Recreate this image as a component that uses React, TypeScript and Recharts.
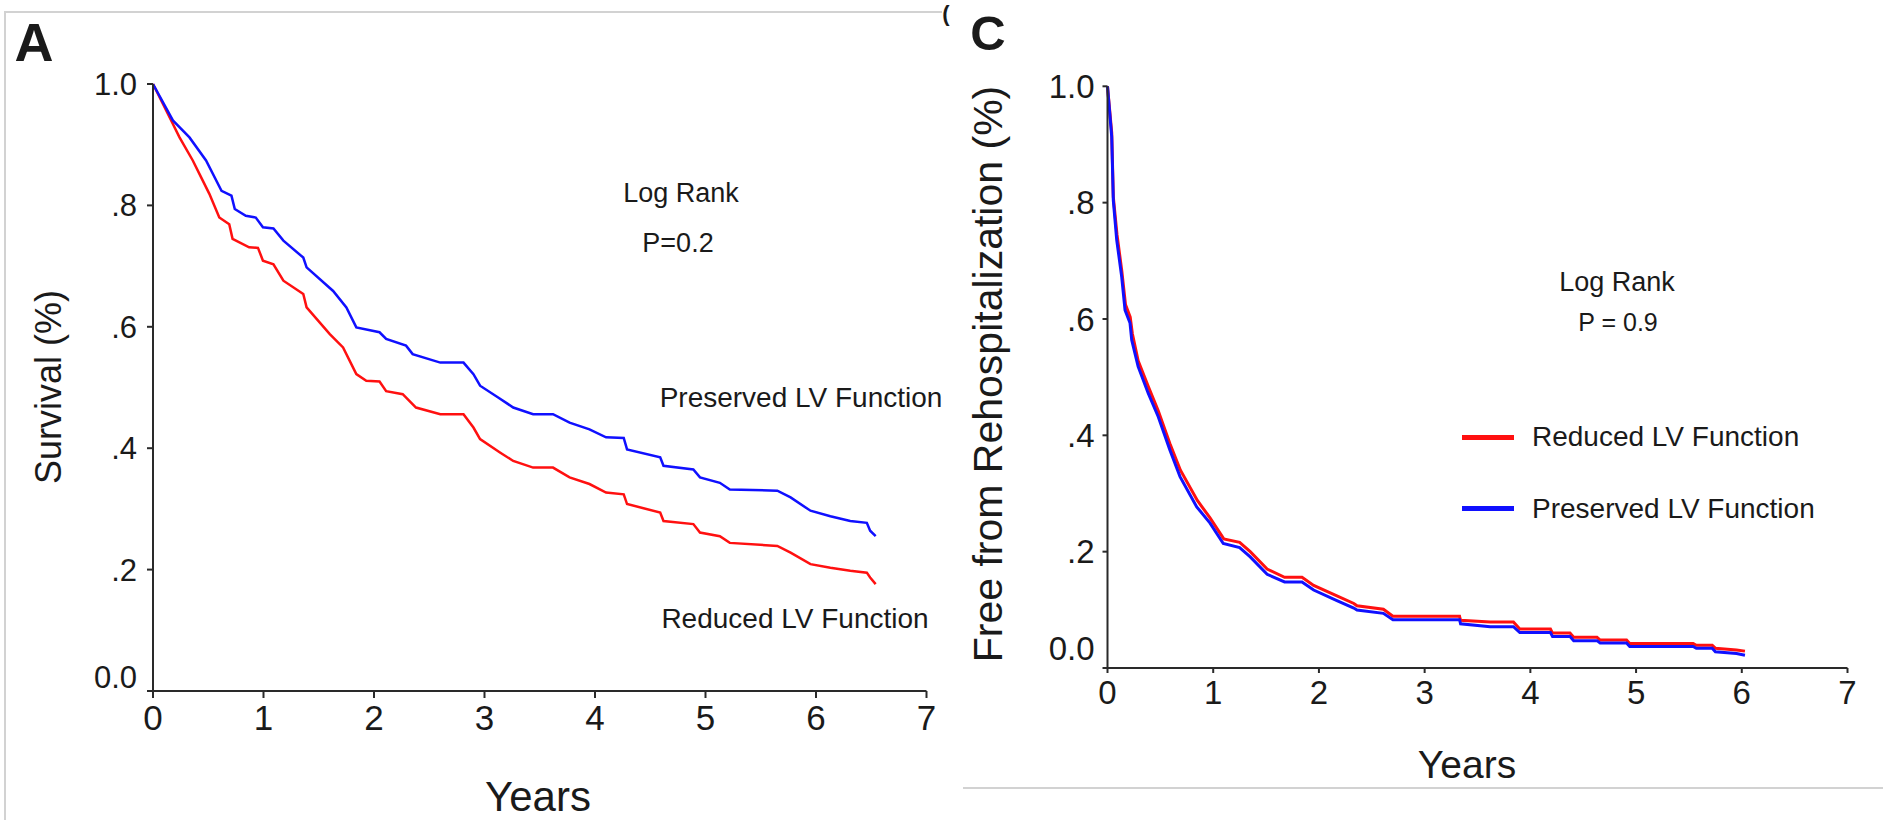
import React from "react";
import { LineChart, Line, XAxis, YAxis } from "recharts";

const FONT = '"Liberation Sans", Arial, Helvetica, sans-serif';
const RED = "#ff1010";
const BLUE = "#1010ff";
const AXIS = "#2a2a2a";
const INK = "#1a1a1a";

const yearTicks = [0, 1, 2, 3, 4, 5, 6, 7];
const fractionTicks = [0, 0.2, 0.4, 0.6, 0.8, 1.0];

// panel A – survival, [years, fraction]
const preservedSurvival: [number, number][] = [
  [0, 1.0], [0.18, 0.94], [0.33, 0.912], [0.48, 0.874], [0.62, 0.824], [0.71, 0.816],
  [0.74, 0.794], [0.84, 0.783], [0.93, 0.78], [0.995, 0.764], [1.09, 0.762], [1.18, 0.742],
  [1.36, 0.714], [1.39, 0.698], [1.63, 0.659], [1.75, 0.632], [1.84, 0.599], [2.05, 0.591],
  [2.11, 0.58], [2.29, 0.569], [2.35, 0.555], [2.6, 0.541], [2.81, 0.541], [2.9, 0.522],
  [2.96, 0.503], [3.12, 0.484], [3.26, 0.467], [3.44, 0.456], [3.62, 0.456], [3.77, 0.442],
  [3.95, 0.431], [4.1, 0.418], [4.26, 0.417], [4.29, 0.398], [4.59, 0.385], [4.62, 0.371],
  [4.89, 0.365], [4.95, 0.352], [5.13, 0.343], [5.22, 0.332], [5.65, 0.33], [5.77, 0.319],
  [5.95, 0.297], [6.13, 0.288], [6.31, 0.28], [6.46, 0.277], [6.49, 0.264], [6.54, 0.255],
];

const reducedSurvival: [number, number][] = [
  [0, 1.0], [0.18, 0.934], [0.24, 0.912], [0.36, 0.874], [0.42, 0.852], [0.51, 0.819],
  [0.6, 0.78], [0.69, 0.769], [0.72, 0.745], [0.87, 0.731], [0.95, 0.73], [0.995, 0.709],
  [1.09, 0.703], [1.18, 0.676], [1.36, 0.654], [1.39, 0.632], [1.6, 0.588], [1.72, 0.566],
  [1.84, 0.522], [1.93, 0.511], [2.05, 0.51], [2.11, 0.494], [2.26, 0.489], [2.38, 0.467],
  [2.6, 0.456], [2.81, 0.456], [2.9, 0.434], [2.96, 0.415], [3.14, 0.393], [3.26, 0.379],
  [3.44, 0.368], [3.62, 0.368], [3.77, 0.352], [3.95, 0.341], [4.1, 0.327], [4.26, 0.324],
  [4.29, 0.308], [4.59, 0.294], [4.62, 0.28], [4.89, 0.275], [4.95, 0.261], [5.13, 0.255],
  [5.22, 0.244], [5.65, 0.239], [5.77, 0.228], [5.95, 0.209], [6.13, 0.203], [6.31, 0.198],
  [6.46, 0.195], [6.49, 0.187], [6.54, 0.176],
];

// panel C – free from rehospitalization, [years, fraction]
const reducedRehosp: [number, number][] = [
  [0, 1.0], [0.04, 0.92], [0.055, 0.81], [0.09, 0.745], [0.135, 0.683], [0.17, 0.625],
  [0.215, 0.603], [0.235, 0.575], [0.29, 0.528], [0.39, 0.482], [0.48, 0.442], [0.59, 0.386],
  [0.69, 0.34], [0.85, 0.288], [0.97, 0.258], [1.1, 0.222], [1.25, 0.216], [1.35, 0.2],
  [1.51, 0.17], [1.675, 0.156], [1.84, 0.156], [1.95, 0.142], [2.17, 0.124], [2.33, 0.111],
  [2.36, 0.107], [2.61, 0.101], [2.7, 0.089], [3.33, 0.089], [3.34, 0.082], [3.62, 0.079],
  [3.84, 0.079], [3.9, 0.067], [4.19, 0.067], [4.21, 0.06], [4.375, 0.06], [4.41, 0.053],
  [4.63, 0.053], [4.66, 0.048], [4.91, 0.048], [4.94, 0.042], [5.54, 0.042], [5.57, 0.039],
  [5.72, 0.039], [5.75, 0.034], [5.95, 0.031], [6.03, 0.029],
];

const preservedRehosp: [number, number][] = [
  [0, 1.0], [0.04, 0.913], [0.055, 0.804], [0.087, 0.736], [0.134, 0.673], [0.166, 0.615],
  [0.213, 0.593], [0.229, 0.564], [0.29, 0.518], [0.386, 0.472], [0.48, 0.432], [0.59, 0.375],
  [0.686, 0.329], [0.844, 0.277], [0.97, 0.249], [1.095, 0.214], [1.25, 0.207], [1.35, 0.191],
  [1.51, 0.161], [1.675, 0.148], [1.84, 0.148], [1.95, 0.134], [2.17, 0.116], [2.33, 0.103],
  [2.36, 0.0997], [2.61, 0.094], [2.7, 0.083], [3.33, 0.083], [3.34, 0.076], [3.62, 0.071],
  [3.84, 0.071], [3.9, 0.061], [4.19, 0.061], [4.21, 0.054], [4.375, 0.054], [4.41, 0.047],
  [4.63, 0.047], [4.66, 0.043], [4.91, 0.043], [4.94, 0.037], [5.54, 0.037], [5.57, 0.034],
  [5.72, 0.034], [5.75, 0.028], [5.95, 0.025], [6.03, 0.022],
];

const toRows = (pts: [number, number][]) => pts.map(([t, v]) => ({ t, v }));

const fracLabel = (v: number) =>
  v === 0 ? "0.0" : v === 1 ? "1.0" : "." + Math.round(v * 10);

function YTick(props: any) {
  const { x, y, payload, fontSize, zeroShift } = props;
  const shift = payload.value === 0 ? -zeroShift : 0;
  return (
    <text x={x} y={y + shift} dy="0.355em" textAnchor="end" fontSize={fontSize} fill={INK} fontFamily={FONT}>
      {fracLabel(payload.value)}
    </text>
  );
}

function XTick(props: any) {
  const { x, y, payload, fontSize } = props;
  return (
    <text x={x} y={y} dy="0.71em" textAnchor="middle" fontSize={fontSize} fill={INK} fontFamily={FONT}>
      {payload.value}
    </text>
  );
}

function Txt({ x, y, size, children, bold, rotate, anchor = "middle" }: any) {
  const tx = anchor === "start" ? "0" : "-50%";
  return (
    <div
      style={{
        position: "absolute",
        left: x,
        top: y,
        fontSize: size,
        lineHeight: 1,
        whiteSpace: "nowrap",
        fontWeight: bold ? 700 : 400,
        color: INK,
        transform: `translate(${tx}, -50%)` + (rotate ? ` rotate(${rotate}deg)` : ""),
      }}
    >
      {children}
    </div>
  );
}

const axisStyle = { stroke: AXIS, strokeWidth: 2 };

export default function App() {
  const legendItems = [
    { name: "Reduced LV Function", color: RED },
    { name: "Preserved LV Function", color: BLUE },
  ];

  return (
    <div
      style={{
        position: "absolute",
        left: 0,
        top: 0,
        width: 1883,
        height: 820,
        background: "#fff",
        fontFamily: FONT,
        overflow: "hidden",
      }}
    >
      {/* frame remnants */}
      <div style={{ position: "absolute", left: 4, top: 11, width: 938, height: 2, background: "#d2d2d2" }} />
      <div style={{ position: "absolute", left: 4, top: 11, width: 2, height: 809, background: "#d2d2d2" }} />
      <div style={{ position: "absolute", left: 963, top: 787, width: 920, height: 2, background: "#d2d2d2" }} />

      {/* panel A */}
      <div style={{ position: "absolute", left: 0, top: 0 }}>
        <LineChart width={960} height={820} margin={{ top: 84, right: 33.5, bottom: 0, left: 0 }}>
          <XAxis
            type="number"
            dataKey="t"
            domain={[0, 7]}
            ticks={yearTicks}
            interval={0}
            height={129}
            tickSize={7}
            tickMargin={7}
            axisLine={axisStyle}
            tickLine={axisStyle}
            tick={(p: any) => <XTick {...p} fontSize={35} />}
          />
          <YAxis
            type="number"
            domain={[0, 1]}
            ticks={fractionTicks}
            interval={0}
            width={153}
            tickSize={6}
            tickMargin={10}
            axisLine={axisStyle}
            tickLine={axisStyle}
            tick={(p: any) => <YTick {...p} fontSize={31} zeroShift={14} />}
          />
          <Line data={toRows(reducedSurvival)} dataKey="v" type="linear" stroke={RED} strokeWidth={2.5} dot={false} activeDot={false} isAnimationActive={false} />
          <Line data={toRows(preservedSurvival)} dataKey="v" type="linear" stroke={BLUE} strokeWidth={2.5} dot={false} activeDot={false} isAnimationActive={false} />
        </LineChart>
      </div>

      {/* panel C */}
      <div style={{ position: "absolute", left: 960, top: 0 }}>
        <LineChart width={923} height={820} margin={{ top: 86.3, right: 35.5, bottom: 0, left: 0 }}>
          <XAxis
            type="number"
            dataKey="t"
            domain={[0, 7]}
            ticks={yearTicks}
            interval={0}
            height={152}
            tickSize={5}
            tickMargin={8}
            axisLine={axisStyle}
            tickLine={axisStyle}
            tick={(p: any) => <XTick {...p} fontSize={33} />}
          />
          <YAxis
            type="number"
            domain={[0, 1]}
            ticks={fractionTicks}
            interval={0}
            width={147.5}
            tickSize={5}
            tickMargin={8}
            axisLine={axisStyle}
            tickLine={axisStyle}
            tick={(p: any) => <YTick {...p} fontSize={33} zeroShift={20} />}
          />
          <Line data={toRows(reducedRehosp)} dataKey="v" name="Reduced LV Function" type="linear" stroke={RED} strokeWidth={3} dot={false} activeDot={false} isAnimationActive={false} />
          <Line data={toRows(preservedRehosp)} dataKey="v" name="Preserved LV Function" type="linear" stroke={BLUE} strokeWidth={3} dot={false} activeDot={false} isAnimationActive={false} />
        </LineChart>
      </div>

      {/* panel A text */}
      <Txt x={34} y={42} size={54} bold>A</Txt>
      <Txt x={681} y={193} size={27}>Log Rank</Txt>
      <Txt x={678} y={243} size={27}>P=0.2</Txt>
      <Txt x={801} y={398} size={28}>Preserved LV Function</Txt>
      <Txt x={795} y={619} size={28}>Reduced LV Function</Txt>
      <Txt x={49} y={387} size={36} rotate={-90}>Survival (%)</Txt>
      <Txt x={538} y={797} size={42}>Years</Txt>

      {/* panel C text */}
      <Txt x={946} y={14} size={22} bold>(</Txt>
      <Txt x={988} y={33} size={49} bold>C</Txt>
      <Txt x={1617} y={282} size={27}>Log Rank</Txt>
      <Txt x={1618} y={322} size={25}>P = 0.9</Txt>
      <Txt x={988} y={374} size={41} rotate={-90}>Free from Rehospitalization (%)</Txt>
      <Txt x={1467} y={764} size={39}>Years</Txt>

      {legendItems.map((item, i) => (
        <div key={item.name}>
          <div
            style={{
              position: "absolute",
              left: 1462,
              top: 434.5 + i * 71.6,
              width: 52,
              height: 5,
              background: item.color,
            }}
          />
          <Txt x={1532} y={437 + i * 71.6} size={28} anchor="start">
            {item.name}
          </Txt>
        </div>
      ))}
    </div>
  );
}
